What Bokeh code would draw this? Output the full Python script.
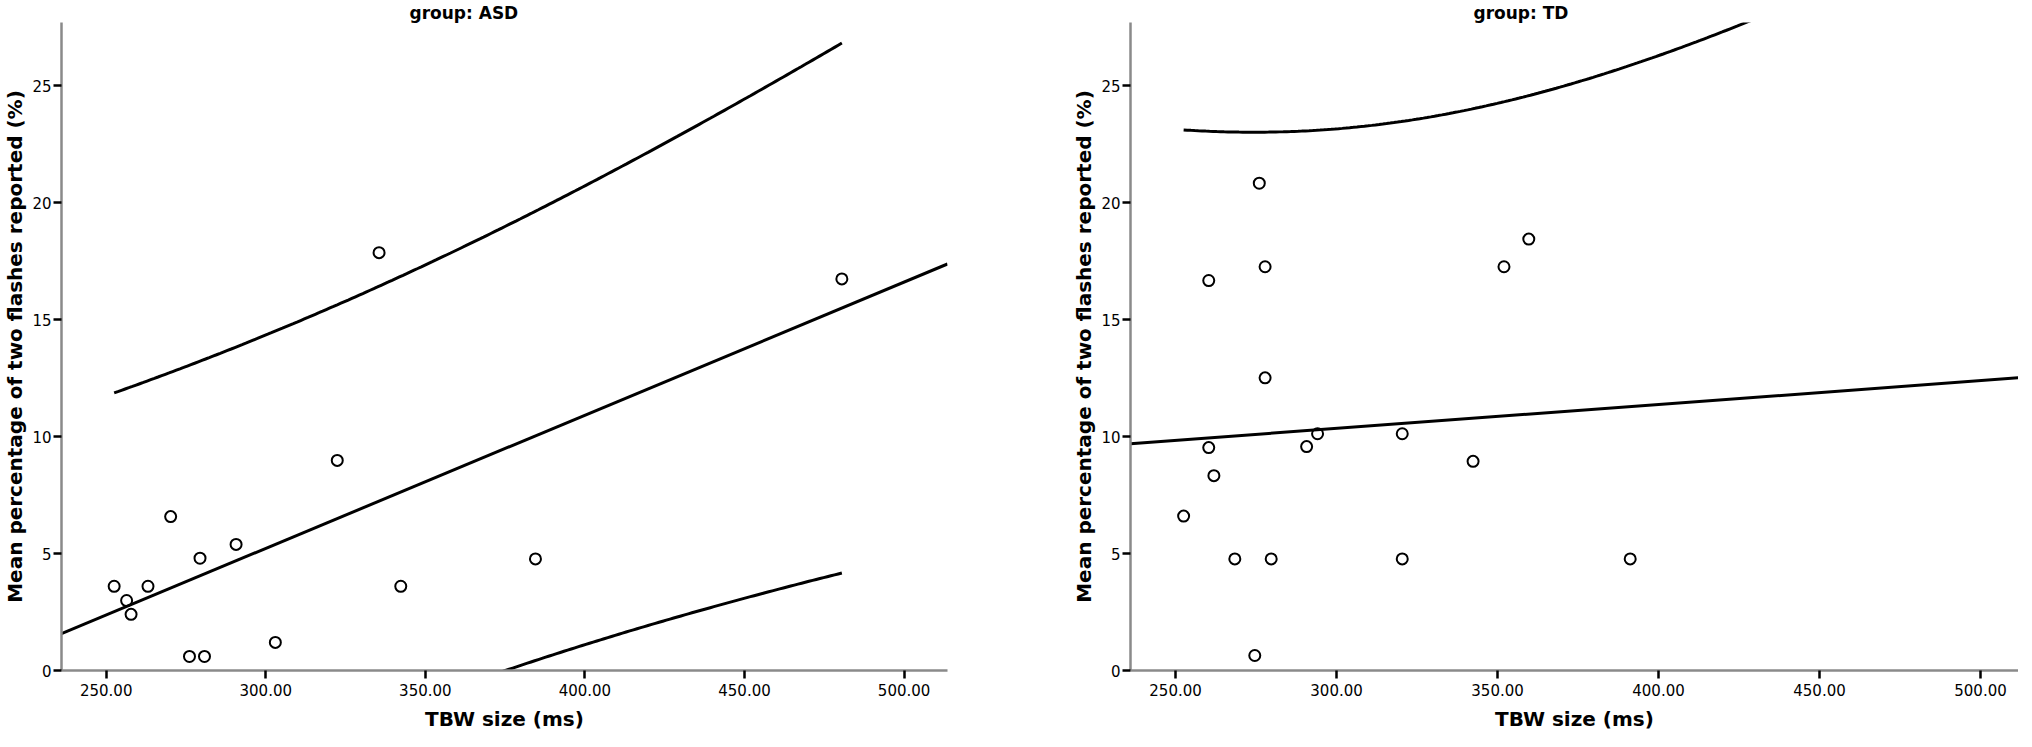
import math
import numpy as np
from bokeh.plotting import figure
from bokeh.layouts import row
from bokeh.models import Range1d, FixedTicker, NumeralTickFormatter
from bokeh.embed import file_html
from bokeh.resources import INLINE

# ---------------- data ----------------
groups = ["ASD", "TD"]

asd_tbw = [252.5, 256.4, 257.8, 263.1, 270.2, 276.1, 279.4, 280.8, 290.7, 303.0, 322.4, 335.5, 342.3, 384.5, 480.5]
asd_pct = [3.60, 2.99, 2.40, 3.60, 6.58, 0.60, 4.80, 0.60, 5.39, 1.20, 8.98, 17.86, 3.60, 4.77, 16.74]

td_tbw = [252.5, 260.3, 260.3, 261.9, 268.4, 274.6, 276.0, 277.8, 277.8, 279.7, 290.7, 294.1, 320.4, 320.4, 342.4, 352.0, 359.7, 391.2]
td_pct = [6.60, 16.67, 9.53, 8.33, 4.77, 0.64, 20.83, 17.26, 12.51, 4.77, 9.57, 10.12, 10.12, 4.77, 8.94, 17.26, 18.44, 4.77]

x_ticks = [250, 300, 350, 400, 450, 500]
y_ticks = [0, 5, 10, 15, 20, 25]
x_label = "TBW size (ms)"
y_label = "Mean percentage of two flashes reported (%)"
title_prefix = "group: "

X_START = 236.0
X_END_LEFT = 513.6
X_END_RIGHT = 511.8
Y_END = 27.7


# ---------------- statistics: OLS fit with 95% prediction interval ----------------
def t_pdf(t, df):
    c = math.exp(math.lgamma((df + 1) / 2) - math.lgamma(df / 2)) / math.sqrt(df * math.pi)
    return c * (1 + t * t / df) ** (-(df + 1) / 2)


def t_cdf(t, df):
    n = 2000
    h = t / n
    s = t_pdf(0, df) + t_pdf(t, df)
    for i in range(1, n):
        s += (4 if i % 2 else 2) * t_pdf(i * h, df)
    return 0.5 + s * h / 3


def t_ppf(p, df):
    lo, hi = 0.0, 20.0
    for _ in range(80):
        mid = (lo + hi) / 2
        if t_cdf(mid, df) < p:
            lo = mid
        else:
            hi = mid
    return (lo + hi) / 2


all_x = np.array(asd_tbw + td_tbw)
ci_grid = np.linspace(all_x.min(), all_x.max(), 200)


def fit(xs, ys, x_end):
    x = np.asarray(xs, float)
    y = np.asarray(ys, float)
    n = len(x)
    xb = x.mean()
    sxx = ((x - xb) ** 2).sum()
    b = ((x - xb) * (y - y.mean())).sum() / sxx
    a = y.mean() - b * xb
    s = math.sqrt(((y - (a + b * x)) ** 2).sum() / (n - 2))
    t = t_ppf(0.975, n - 2)
    line_x = np.array([X_START, x_end])
    line_y = a + b * line_x
    hw = t * s * np.sqrt(1 + 1 / n + (ci_grid - xb) ** 2 / sxx)
    mid = a + b * ci_grid
    return line_x, line_y, mid + hw, mid - hw


FONT = "DejaVu Sans"


def panel(name, xs, ys, x_end, border_left, border_right, frame_w):
    p = figure(
        frame_width=frame_w, frame_height=648,
        x_range=Range1d(X_START, x_end), y_range=Range1d(0, Y_END),
        output_backend="svg", toolbar_location=None,
        min_border_left=border_left, min_border_right=border_right,
        min_border_top=20, min_border_bottom=63,
        outline_line_color=None, background_fill_color="white", border_fill_color="white",
        title=title_prefix + name,
    )
    p.title.align = "left"
    p.title.offset = 348 if name == "ASD" else 343
    p.title.text_font = FONT
    p.title.text_font_size = "17px"
    p.title.text_font_style = "bold"
    p.title.text_color = "black"
    p.title.standoff = 0

    p.xgrid.visible = False
    p.ygrid.visible = False

    for ax in (p.xaxis[0], p.yaxis[0]):
        ax.axis_line_color = "#8a8a8a"
        ax.axis_line_width = 2.5
        ax.major_tick_line_color = "black"
        ax.major_tick_line_width = 2.5
        ax.major_tick_in = 0
        ax.minor_tick_line_color = None
        ax.major_label_text_font = FONT
        ax.major_label_text_font_size = "15px"
        ax.major_label_text_color = "black"
        ax.axis_label_text_font = FONT
        ax.axis_label_text_font_size = "20px"
        ax.axis_label_text_font_style = "bold"
        ax.axis_label_text_color = "black"

    p.xaxis.ticker = FixedTicker(ticks=x_ticks)
    p.xaxis.formatter = NumeralTickFormatter(format="0.00")
    p.xaxis.major_tick_out = 8
    p.xaxis.major_label_standoff = 5
    p.xaxis.axis_label = x_label
    p.xaxis.axis_label_standoff = 8

    p.yaxis.ticker = FixedTicker(ticks=y_ticks)
    p.yaxis.major_tick_out = 8
    p.yaxis.major_label_standoff = 2
    p.yaxis.axis_label = y_label
    p.yaxis.axis_label_standoff = 2

    lx, ly, up, lo = fit(xs, ys, x_end)
    p.line(lx, ly, line_color="black", line_width=3)
    p.line(ci_grid, up, line_color="black", line_width=3)
    p.line(ci_grid, lo, line_color="black", line_width=3)
    p.scatter(xs, ys, marker="circle", size=11, fill_color=None, line_color="black", line_width=2)
    return p


p1 = panel(groups[0], asd_tbw, asd_pct, X_END_LEFT, 59, 47, 886)
p2 = panel(groups[1], td_tbw, td_pct, X_END_RIGHT, 136, 0, 888)

layout = row(p1, p2)
open("out.html", "w").write(file_html(layout, INLINE))
